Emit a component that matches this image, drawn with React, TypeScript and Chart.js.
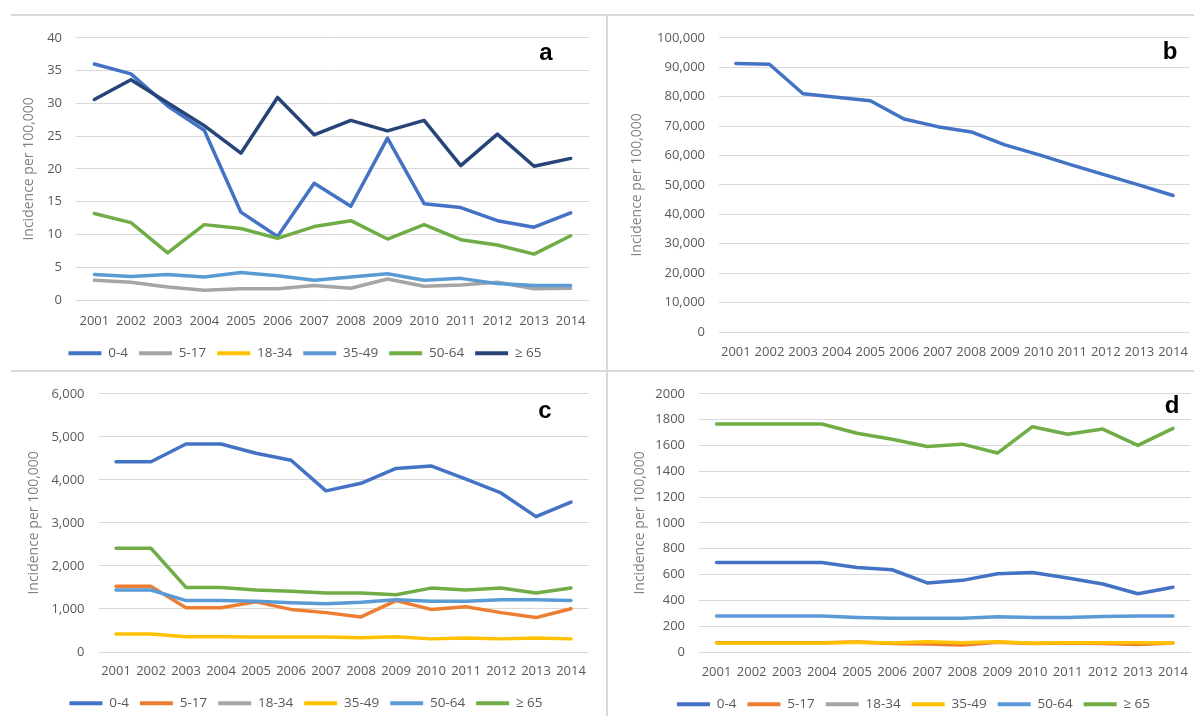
import React, { useEffect, useRef } from 'react';
import { Chart, registerables } from 'chart.js';

Chart.register(...registerables);

// ---------- data ----------
const years = ['2001', '2002', '2003', '2004', '2005', '2006', '2007', '2008', '2009', '2010', '2011', '2012', '2013', '2014'];
const ageGroups = ['0-4', '5-17', '18-34', '35-49', '50-64', '≥ 65'];

const colorsA = ['#4472C4', '#A5A5A5', '#FFC000', '#5B9BD5', '#70AD47', '#264478'];
const colorsCD = ['#4472C4', '#ED7D31', '#A5A5A5', '#FFC000', '#5B9BD5', '#70AD47'];

// panel a
const a_0_4 = [36.0, 34.5, 29.6, 25.9, 13.4, 9.7, 17.8, 14.3, 24.7, 14.7, 14.1, 12.1, 11.1, 13.3];
const a_5_17 = [3.0, 2.7, 2.0, 1.5, 1.7, 1.7, 2.2, 1.8, 3.2, 2.1, 2.3, 2.7, 1.7, 1.8];
const a_18_34 = [null, null, null, null, null, null, null, null, null, null, null, null, null, null];
const a_35_49 = [3.9, 3.6, 3.9, 3.5, 4.2, 3.7, 3.0, 3.5, 4.0, 3.0, 3.3, 2.5, 2.2, 2.2];
const a_50_64 = [13.2, 11.8, 7.2, 11.5, 10.9, 9.4, 11.2, 12.1, 9.3, 11.5, 9.2, 8.4, 7.0, 9.8];
const a_65 = [30.6, 33.6, 30.1, 26.6, 22.4, 30.9, 25.2, 27.4, 25.8, 27.4, 20.5, 25.3, 20.4, 21.6];

// panel b
const b_all = [91300, 91000, 81000, 79800, 78600, 72400, 69800, 68000, 63600, 60300, 56700, 53300, 49900, 46400];

// panel c
const c_0_4 = [4420, 4420, 4835, 4835, 4620, 4455, 3745, 3920, 4265, 4325, 4015, 3695, 3145, 3485];
const c_5_17 = [1525, 1525, 1030, 1030, 1165, 990, 915, 815, 1195, 990, 1050, 915, 800, 1005];
const c_18_34 = [null, null, null, null, null, null, null, null, null, null, null, null, null, null];
const c_35_49 = [420, 420, 355, 355, 350, 350, 350, 330, 355, 305, 325, 305, 325, 305];
const c_50_64 = [1440, 1440, 1195, 1195, 1180, 1145, 1120, 1155, 1215, 1180, 1180, 1215, 1215, 1195];
const c_65 = [2410, 2410, 1500, 1500, 1440, 1410, 1370, 1370, 1330, 1485, 1440, 1485, 1370, 1485];

// panel d
const d_0_4 = [693, 693, 693, 693, 655, 637, 535, 555, 606, 616, 573, 527, 451, 502];
const d_5_17 = [72, 72, 72, 72, 78, 65, 62, 55, 75, 65, 70, 65, 58, 70];
const d_18_34 = [null, null, null, null, null, null, null, null, null, null, null, null, null, null];
const d_35_49 = [70, 70, 70, 70, 76, 70, 80, 72, 80, 68, 72, 72, 72, 70];
const d_50_64 = [278, 278, 278, 278, 268, 262, 262, 262, 273, 268, 268, 275, 278, 278];
const d_65 = [1766, 1766, 1766, 1766, 1694, 1648, 1592, 1610, 1541, 1745, 1687, 1727, 1600, 1732];

const yTitle = 'Incidence per 100,000';

// ---------- styling ----------
const FONT = '"Open Sans", "Noto Sans", sans-serif';
const TICK_COLOR = '#595959';
const TITLE_COLOR = '#7f7f7f';
const GRID_COLOR = '#d9d9d9';

type Panel = {
  key: string;
  left: number;
  top: number;
  width: number;
  height: number;
  series: (number | null)[][];
  labels: string[];
  colors: string[];
  legend: boolean;
  yMax: number;
  yStep: number;
  comma: boolean;
  padL: number;
  padR: number;
  padT: number;
  yWidth: number;
  yrWidth: number;
  xHeight: number;
  xPad: number;
  titlePad: number;
  letter: string;
  letterX: number;
  letterY: number;
};

const panels: Panel[] = [
  {
    key: 'a', left: 0, top: 16, width: 607, height: 354,
    series: [a_0_4, a_5_17, a_18_34, a_35_49, a_50_64, a_65], labels: ageGroups, colors: colorsA, legend: true,
    yMax: 40, yStep: 5, comma: false,
    padL: 3, padR: 0, padT: 16, yWidth: 73, yrWidth: 18, xHeight: 35.5, xPad: 13, titlePad: 18,
    letter: 'a', letterX: 546, letterY: 44,
  },
  {
    key: 'b', left: 608, top: 16, width: 592, height: 354,
    series: [b_all], labels: ['All ages'], colors: ['#4472C4'], legend: false,
    yMax: 100000, yStep: 10000, comma: true,
    padL: 0, padR: 3, padT: 16, yWidth: 111, yrWidth: 0, xHeight: 38, xPad: 12, titlePad: 21,
    letter: 'b', letterX: 562, letterY: 43,
  },
  {
    key: 'c', left: 0, top: 372, width: 607, height: 348,
    series: [c_0_4, c_5_17, c_18_34, c_35_49, c_50_64, c_65], labels: ageGroups, colors: colorsCD, legend: true,
    yMax: 6000, yStep: 1000, comma: true,
    padL: 5, padR: 0, padT: 17, yWidth: 93.5, yrWidth: 18.5, xHeight: 33.5, xPad: 11, titlePad: 20.6,
    letter: 'c', letterX: 545, letterY: 46,
  },
  {
    key: 'd', left: 608, top: 372, width: 592, height: 349,
    series: [d_0_4, d_5_17, d_18_34, d_35_49, d_50_64, d_65], labels: ageGroups, colors: colorsCD, legend: true,
    yMax: 2000, yStep: 200, comma: false,
    padL: 19, padR: 0, padT: 18, yWidth: 72, yrWidth: 4, xHeight: 34.5, xPad: 12, titlePad: 4.6,
    letter: 'd', letterX: 564, letterY: 41,
  },
];

function buildConfig(p: Panel): any {
  const n = p.series.length;
  const datasets = p.series.map((data, i) => ({
    label: p.labels[i],
    data,
    borderColor: p.colors[i],
    backgroundColor: p.colors[i],
    borderWidth: 3.5,
    pointRadius: 0,
    pointHoverRadius: 0,
    tension: 0,
    borderCapStyle: 'round',
    borderJoinStyle: 'round',
    fill: false,
    spanGaps: false,
    order: n - i,
  }));

  const letterPlugin = {
    id: 'panelLetter' + p.key,
    afterDraw(chart: any) {
      const ctx = chart.ctx;
      ctx.save();
      ctx.font = 'bold 24px "Liberation Sans", Arial, sans-serif';
      ctx.fillStyle = '#000000';
      ctx.textAlign = 'center';
      ctx.textBaseline = 'alphabetic';
      ctx.fillText(p.letter, p.letterX, p.letterY);
      ctx.restore();
    },
  };

  const scales: any = {
    x: {
      type: 'category',
      offset: true,
      grid: { display: false, drawTicks: false },
      border: { display: false },
      ticks: {
        color: TICK_COLOR,
        font: { family: FONT, size: 13 },
        padding: p.xPad,
        maxRotation: 0,
        autoSkip: false,
      },
      afterFit: (s: any) => { s.height = p.xHeight; },
    },
    y: {
      type: 'linear',
      position: 'left',
      min: 0,
      max: p.yMax,
      grid: { color: GRID_COLOR, lineWidth: 1, drawTicks: false },
      border: { display: false },
      ticks: {
        stepSize: p.yStep,
        color: TICK_COLOR,
        font: { family: FONT, size: 13 },
        padding: 14,
        callback: (v: any) => (p.comma ? Number(v).toLocaleString('en-US') : String(v)),
      },
      title: {
        display: true,
        text: yTitle,
        color: TITLE_COLOR,
        font: { family: FONT, size: 14 },
        padding: { top: p.titlePad, bottom: 0 },
      },
      afterFit: (s: any) => { s.width = p.yWidth; },
    },
  };
  if (p.yrWidth > 0) {
    scales.yr = {
      type: 'linear',
      position: 'right',
      display: true,
      grid: { display: false, drawTicks: false },
      border: { display: false },
      ticks: { display: false },
      afterFit: (s: any) => { s.width = p.yrWidth; },
    };
  }

  return {
    type: 'line',
    data: { labels: years, datasets },
    options: {
      responsive: false,
      maintainAspectRatio: false,
      animation: false,
      events: [],
      layout: { padding: { left: p.padL, right: p.padR, top: p.padT, bottom: 0 } },
      plugins: {
        tooltip: { enabled: false },
        title: { display: false },
        legend: {
          display: p.legend,
          position: 'bottom',
          align: 'center',
          labels: {
            boxWidth: 33,
            boxHeight: 4,
            padding: 11,
            color: TICK_COLOR,
            font: { family: FONT, size: 13.5 },
            sort: (a: any, b: any) => a.datasetIndex - b.datasetIndex,
            generateLabels: (chart: any) =>
              chart.data.datasets.map((ds: any, i: number) => ({
                text: ds.label,
                fillStyle: ds.borderColor,
                strokeStyle: ds.borderColor,
                lineWidth: 0,
                hidden: false,
                datasetIndex: i,
                fontColor: TICK_COLOR,
              })),
          },
        },
      },
      scales,
    },
    plugins: [letterPlugin],
  };
}

function PanelChart({ p }: { p: Panel }) {
  const ref = useRef<HTMLCanvasElement | null>(null);
  useEffect(() => {
    if (!ref.current) return;
    const chart = new Chart(ref.current, buildConfig(p));
    return () => chart.destroy();
  }, [p]);
  return (
    <canvas
      ref={ref}
      width={p.width}
      height={p.height}
      style={{ position: 'absolute', left: p.left, top: p.top, width: p.width, height: p.height }}
    />
  );
}

export default function App() {
  const lineStyle = { position: 'absolute' as const, background: '#d9d9d9' };
  return (
    <div
      style={{
        position: 'fixed',
        left: 0,
        top: 0,
        width: 1194,
        height: 716,
        background: '#ffffff',
        overflow: 'hidden',
      }}
    >
      {panels.map((p) => (
        <PanelChart key={p.key} p={p} />
      ))}
      <div style={{ ...lineStyle, left: 11, top: 14, width: 1183, height: 2 }} />
      <div style={{ ...lineStyle, left: 11, top: 370, width: 1183, height: 2 }} />
      <div style={{ ...lineStyle, left: 606, top: 14, width: 2, height: 702 }} />
    </div>
  );
}
